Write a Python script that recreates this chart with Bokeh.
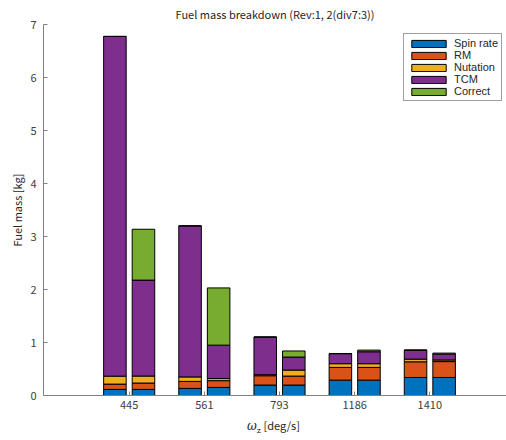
from bokeh.plotting import figure
from bokeh.models import Range1d, FixedTicker, Legend, LegendItem, ColumnDataSource, Div
from bokeh.layouts import column
from bokeh.embed import file_html
from bokeh.resources import INLINE

# ---- data ----
groups = ["445", "561", "793", "1186", "1410"]
series = ["Spin rate", "RM", "Nutation", "TCM", "Correct"]
colors = ["#0072BD", "#D95319", "#EDB120", "#7E2F8E", "#77AC30"]

# Rev 1 (left bar of each group)
rev1_spin = [0.115, 0.134, 0.197, 0.29, 0.34]
rev1_rm = [0.10, 0.132, 0.176, 0.24, 0.296]
rev1_nut = [0.15, 0.084, 0.02, 0.07, 0.05]
rev1_tcm = [6.41, 2.85, 0.71, 0.19, 0.17]
rev1_cor = [0.0, 0.0, 0.0, 0.0, 0.0]

# Rev 2 (div 7:3, right bar of each group)
rev2_spin = [0.115, 0.153, 0.197, 0.29, 0.34]
rev2_rm = [0.12, 0.127, 0.17, 0.24, 0.30]
rev2_nut = [0.132, 0.04, 0.113, 0.07, 0.03]
rev2_tcm = [1.81, 0.63, 0.245, 0.225, 0.11]
rev2_cor = [0.96, 1.08, 0.115, 0.032, 0.02]

group_pos = [1, 2, 3, 4, 5]
offset = 0.19
bar_w = 0.30

FONT = "Noto Sans CJK JP"

p = figure(width=506, height=415, output_backend="svg", toolbar_location=None,
           x_range=Range1d(-0.14, 6.02), y_range=Range1d(0, 7),
           min_border_left=43, min_border_right=0, min_border_top=23, min_border_bottom=20,
           title="Fuel mass breakdown (Rev:1, 2(div7:3))")
p.outline_line_color = None
p.grid.visible = False
p.background_fill_color = "white"
p.border_fill_color = "white"

p.title.align = "center"
p.title.offset = 4
p.title.standoff = 6
p.title.text_font = FONT
p.title.text_font_size = "11px"
p.title.text_font_style = "normal"
p.title.text_color = "#262626"

rev1 = [rev1_spin, rev1_rm, rev1_nut, rev1_tcm, rev1_cor]
rev2 = [rev2_spin, rev2_rm, rev2_nut, rev2_tcm, rev2_cor]

renderers = {}
for shift, data in ((-offset, rev1), (offset, rev2)):
    xs = [g + shift for g in group_pos]
    bottom = [0.0] * len(xs)
    for name, col, vals in zip(series, colors, data):
        top = [b + v for b, v in zip(bottom, vals)]
        src = ColumnDataSource(dict(x=xs, bottom=bottom, top=top))
        r = p.vbar(x="x", bottom="bottom", top="top", width=bar_w, source=src,
                   fill_color=col, line_color="black", line_width=1)
        renderers.setdefault(name, r)
        bottom = top

# axes
for ax in (p.xaxis[0], p.yaxis[0]):
    ax.axis_line_color = "#808080"
    ax.major_tick_line_color = "#808080"
    ax.major_tick_in = 4
    ax.major_tick_out = 0
    ax.minor_tick_line_color = None
    ax.major_label_text_font = FONT
    ax.major_label_text_font_size = "11px"
    ax.major_label_text_color = "#404040"

p.xaxis.ticker = FixedTicker(ticks=group_pos)
p.xaxis.major_label_overrides = {g: lab for g, lab in zip(group_pos, groups)}
p.xaxis.major_label_standoff = 5

p.yaxis.ticker = FixedTicker(ticks=list(range(0, 8)))
p.yaxis.major_label_standoff = 7
p.yaxis.axis_label = "Fuel mass [kg]"
p.yaxis.axis_label_text_font = FONT
p.yaxis.axis_label_text_font_size = "11px"
p.yaxis.axis_label_text_font_style = "normal"
p.yaxis.axis_label_text_color = "#262626"
p.yaxis.axis_label_standoff = 2

legend = Legend(items=[LegendItem(label=n, renderers=[renderers[n]]) for n in series],
                location=(360, 294), orientation="vertical")
legend.margin = 0
legend.padding = 3
legend.spacing = 0
legend.label_height = 12
legend.glyph_height = 9
legend.glyph_width = 43
legend.label_standoff = 4
legend.label_text_font = "Liberation Sans"
legend.label_text_font_size = "11px"
legend.label_text_color = "#262626"
legend.border_line_color = "#404040"
legend.border_line_width = 1
legend.background_fill_alpha = 1
p.add_layout(legend)

xlabel = Div(text='<i style="font-family:DejaVu Serif;font-size:12px">ω</i>'
                  '<sub style="font-family:DejaVu Serif;font-size:8px">z</sub>'
                  '&nbsp;[deg/s]',
             width=506, height=25,
             styles={"font-family": FONT, "font-size": "11px", "color": "#262626",
                     "padding-left": "247px", "line-height": "20px", "margin": "0"})

layout = column(p, xlabel, spacing=0)
open("out.html", "w").write(file_html(layout, INLINE))
